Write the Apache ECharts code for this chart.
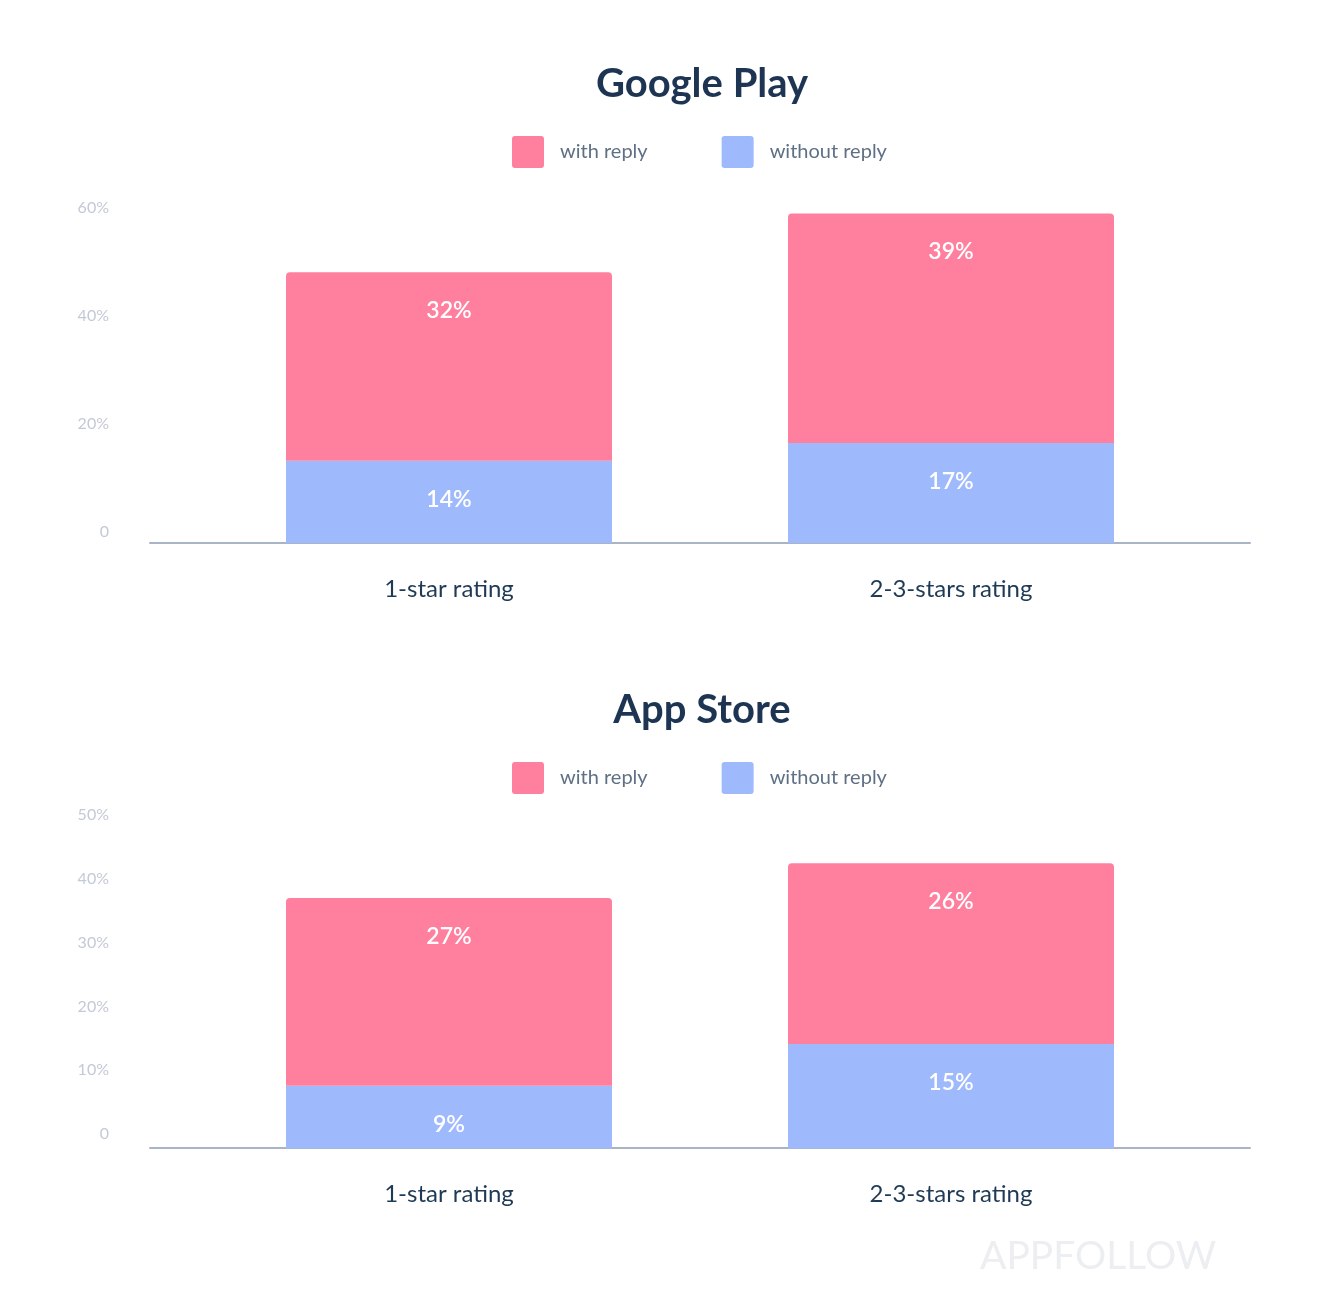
<!DOCTYPE html>
<html>
<head>
<meta charset="utf-8">
<script src="https://cdn.jsdelivr.net/npm/echarts@6/dist/echarts.min.js"></script>
<style>
html,body{margin:0;padding:0;background:#fff;}
#chart{width:1320px;height:1292px;}
</style>
</head>
<body>
<div id="chart"></div>
<script>
// ---- data ----
var categories = ['1-star rating', '2-3-stars rating'];
var seriesNames = ['with reply', 'without reply'];
var gpWithReply = [32, 39];
var gpWithoutReply = [14, 17];
var asWithReply = [27, 26];
var asWithoutReply = [9, 15];
var gpAxisMax = 60, gpAxisStep = 20;
var asAxisMax = 50, asAxisStep = 10;
var chartTitles = ['Google Play', 'App Store'];
var watermark = 'APPFOLLOW';

// ---- style ----
var FONT = 'Lato';
var PINK = '#ff7f9f';
var BLUE = '#9fb9fd';
var TITLE_C = '#1d3552';
var CAT_C = '#1f3a55';
var LEG_C = '#5f7085';
var YLAB_C = '#c3c9d6';
var AXIS_C = '#a9b4c6';

var legendIcon = 'path://M3,0H29A3,3,0,0,1,32,3V29A3,3,0,0,1,29,32H3A3,3,0,0,1,0,29V3A3,3,0,0,1,3,0Z';

function pctFmt(v){ return v === 0 ? '0' : v + '%'; }

function legend(top){
  return {
    data: seriesNames.map(function(n){ return {name:n, icon:legendIcon}; }),
    left: 507, top: top, orient: 'horizontal',
    itemWidth: 32, itemHeight: 32, itemGap: 74,
    selectedMode: false,
    textStyle: {fontFamily: FONT, fontSize: 20, color: LEG_C, padding: [4,0,0,11]}
  };
}

function barLabel(){
  return {show: true, position: 'insideTop', distance: 27, color: '#fff',
    fontFamily: FONT, fontSize: 23, fontWeight: 600,
    formatter: function(p){ return p.value + '%'; }};
}

function catAxis(grid){
  return {gridIndex: grid, type: 'category', data: categories,
     axisLine: {show: false}, axisTick: {show: false},
     axisLabel: {margin: 34, fontFamily: FONT, fontSize: 24, color: CAT_C}};
}
function lineAxis(grid, off){
  return {gridIndex: grid, type: 'value', offset: off,
     axisLine: {show: true, onZero: false, lineStyle: {color: AXIS_C, width: 2}},
     axisTick: {show: false}, axisLabel: {show: false}, splitLine: {show: false}};
}
function labelYAxis(grid, max, step){
  return {gridIndex: grid, type: 'value', min: 0, max: max, interval: step,
     axisLine: {show: false}, axisTick: {show: false}, splitLine: {show: false},
     axisLabel: {margin: 41, fontFamily: FONT, fontSize: 16, color: YLAB_C, formatter: pctFmt}};
}

var chart = echarts.init(document.getElementById('chart'), null, {renderer:'canvas'});
chart.setOption({
  backgroundColor: '#fff',
  animation: false,
  title: [
    {text: chartTitles[0], left: 697, textAlign: 'center', top: 59,
     textStyle: {fontFamily: FONT, fontSize: 40, fontWeight: 'bold', color: TITLE_C}},
    {text: chartTitles[1], left: 697, textAlign: 'center', top: 685,
     textStyle: {fontFamily: FONT, fontSize: 40, fontWeight: 'bold', color: TITLE_C}}
  ],
  legend: [legend(131), legend(757)],
  grid: [
    {left: 198, right: 118, top: 190, height: 353},
    {left: 150, right: 70, top: 208, bottom: 760},
    {left: 198, right: 118, top: 800.5, height: 348},
    {left: 150, right: 70, top: 815, bottom: 158}
  ],
  xAxis: [catAxis(0), lineAxis(1, 11), catAxis(2), lineAxis(3, 14)],
  yAxis: [
    {gridIndex: 0, type: 'value', min: 0, max: gpAxisMax, show: false},
    labelYAxis(1, gpAxisMax, gpAxisStep),
    {gridIndex: 2, type: 'value', min: 0, max: asAxisMax, show: false},
    labelYAxis(3, asAxisMax, asAxisStep)
  ],
  series: [
    {name: seriesNames[1], type: 'bar', xAxisIndex: 0, yAxisIndex: 0, stack: 'gp',
     data: gpWithoutReply, barWidth: 326, itemStyle: {color: BLUE}, label: barLabel()},
    {name: seriesNames[0], type: 'bar', xAxisIndex: 0, yAxisIndex: 0, stack: 'gp',
     data: gpWithReply, barWidth: 326, itemStyle: {color: PINK, borderRadius: [4,4,0,0]}, label: barLabel()},
    {name: seriesNames[1], type: 'bar', xAxisIndex: 2, yAxisIndex: 2, stack: 'as',
     data: asWithoutReply, barWidth: 326, itemStyle: {color: BLUE}, label: barLabel()},
    {name: seriesNames[0], type: 'bar', xAxisIndex: 2, yAxisIndex: 2, stack: 'as',
     data: asWithReply, barWidth: 326, itemStyle: {color: PINK, borderRadius: [4,4,0,0]}, label: barLabel()}
  ],
  graphic: [
    {type: 'text', left: 980, top: 1237,
     style: {text: watermark, fontFamily: FONT, fontSize: 39, fontWeight: 'normal', fill: '#eceef1'}}
  ]
});
</script>
</body>
</html>
